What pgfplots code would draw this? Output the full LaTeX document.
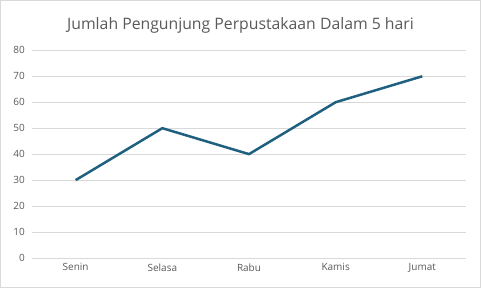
\documentclass[border=0pt]{standalone}
\usepackage{fontspec}
\setmainfont{Open Sans}
\usepackage{pgfplots}
\pgfplotsset{compat=1.18}
\definecolor{linec}{HTML}{1F5F7F}
\definecolor{gridc}{HTML}{D9D9D9}
\definecolor{txt}{HTML}{595959}
\begin{document}
\begin{tikzpicture}[x=1pt,y=1pt]
\draw[gridc, line width=0.8pt, use as bounding box] (0,0) rectangle (481,287);
\node[txt, font=\fontsize{15.8}{18}\selectfont] at (240.5,262) {Jumlah Pengunjung Perpustakaan Dalam 5 hari};
\begin{axis}[
  at={(32pt,29pt)}, anchor=south west,
  scale only axis, width=434pt, height=208pt,
  xmin=-0.5, xmax=4.5, ymin=0, ymax=80,
  xtick={0,1,2,3,4},
  xticklabels={Senin,Selasa,Rabu,Kamis,Jumat},
  ytick={0,10,...,80},
  axis line style={draw=none},
  major tick length=0pt,
  ymajorgrids, grid style={gridc, line width=0.8pt},
  tick label style={txt, font=\fontsize{10}{12}\selectfont},
  /pgf/number format/assume math mode=true,
  xticklabel style={yshift=-2pt},
  yticklabel style={xshift=-4pt},
  clip=false,
]
\addplot[linec, line width=2.5pt, line join=round] coordinates {(0,30) (1,50) (2,40) (3,60) (4,70)};
\end{axis}
\end{tikzpicture}
\end{document}
